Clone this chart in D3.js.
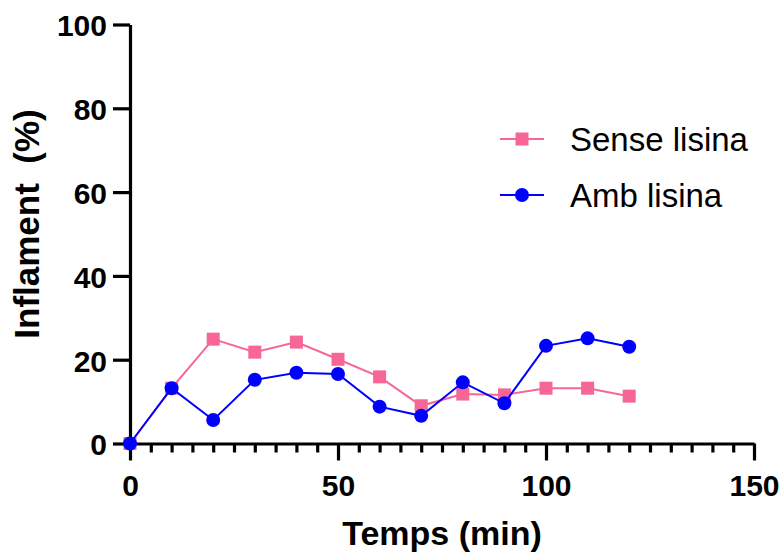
<!DOCTYPE html>
<html>
<head>
<meta charset="utf-8">
<script src="https://cdn.jsdelivr.net/npm/d3@7"></script>
<style>
  html, body { margin: 0; padding: 0; background: #fff; }
  svg { display: block; font-family: "Liberation Sans", Arial, sans-serif; }
</style>
</head>
<body>
<svg id="chart" width="782" height="553"></svg>
<script>
// Time points (min)
const times = [0, 10, 20, 30, 40, 50, 60, 70, 80, 90, 100, 110, 120];
// Inflammation (%) per group
const senseLisina = [0, 13.2, 24.9, 21.8, 24.2, 20.1, 15.9, 9.0, 11.8, 11.6, 13.2, 13.2, 11.3];
const ambLisina   = [0, 13.2, 5.6, 15.2, 16.9, 16.6, 8.8, 6.6, 14.6, 9.6, 23.3, 25.1, 23.1];
const seriesNames = ["Sense lisina", "Amb lisina"];
const xTicks = [0, 50, 100, 150];
const xMinorTicks = d3.range(0, 151, 5);
const yTicks = [0, 20, 40, 60, 80, 100];

const pink = "#F66796";
const blue = "#0000FF";

const svg = d3.select("#chart");
const x = d3.scaleLinear().domain([0, 150]).range([130, 754]);
const y = d3.scaleLinear().domain([0, 100]).range([443.5, 24.5]);

// Y axis
const yAxis = svg.append("g").attr("transform", `translate(${x(0)},0)`)
  .call(d3.axisLeft(y).tickValues(yTicks).tickSize(17).tickPadding(6).tickSizeOuter(0));
yAxis.select(".domain").attr("stroke", "#000").attr("stroke-width", 3.2);
yAxis.selectAll(".tick line").attr("stroke", "#000").attr("stroke-width", 3.2);
yAxis.selectAll(".tick text").attr("fill", "#000").attr("font-size", 30).attr("font-weight", "bold")
  .attr("font-family", "Liberation Sans, Arial, sans-serif").attr("dy", "0.38em");

// X axis minor ticks
const xMinor = svg.append("g").attr("transform", `translate(0,${y(0)})`)
  .call(d3.axisBottom(x).tickValues(xMinorTicks.filter(v => v % 50 !== 0)).tickSize(9).tickFormat("").tickSizeOuter(0));
xMinor.select(".domain").remove();
xMinor.selectAll(".tick line").attr("stroke", "#000").attr("stroke-width", 3.2);

// X axis major ticks
const xAxis = svg.append("g").attr("transform", `translate(0,${y(0)})`)
  .call(d3.axisBottom(x).tickValues(xTicks).tickSize(17).tickPadding(13).tickSizeOuter(0));
xAxis.select(".domain").attr("stroke", "#000").attr("stroke-width", 3.2);
xAxis.selectAll(".tick line").attr("stroke", "#000").attr("stroke-width", 3.2);
xAxis.selectAll(".tick text").attr("fill", "#000").attr("font-size", 30).attr("font-weight", "bold")
  .attr("font-family", "Liberation Sans, Arial, sans-serif").attr("dy", "0.75em");

// Axis titles
svg.append("text").attr("x", 442).attr("y", 545).attr("text-anchor", "middle")
  .attr("font-size", 34).attr("font-weight", "bold").text("Temps (min)");
svg.append("text").attr("transform", `translate(39,224) rotate(-90)`)
  .attr("text-anchor", "middle").attr("font-size", 35).attr("font-weight", "bold")
  .attr("xml:space", "preserve").style("white-space", "pre").text("Inflament  (%)");

const line = d3.line().x((d, i) => x(times[i])).y(d => y(d));

// Sense lisina series
svg.append("path").datum(senseLisina).attr("d", line)
  .attr("fill", "none").attr("stroke", pink).attr("stroke-width", 2);
svg.append("g").selectAll("rect").data(senseLisina).join("rect")
  .attr("x", (d, i) => x(times[i]) - 6.5).attr("y", d => y(d) - 6.5)
  .attr("width", 13).attr("height", 13).attr("fill", pink);

// Amb lisina series
svg.append("path").datum(ambLisina).attr("d", line)
  .attr("fill", "none").attr("stroke", blue).attr("stroke-width", 2);
svg.append("g").selectAll("circle").data(ambLisina).join("circle")
  .attr("cx", (d, i) => x(times[i])).attr("cy", d => y(d)).attr("r", 7).attr("fill", blue);

// Legend
const legend = svg.append("g");
const legY = [139, 195];
legend.append("line").attr("x1", 500).attr("x2", 544).attr("y1", legY[0]).attr("y2", legY[0])
  .attr("stroke", pink).attr("stroke-width", 2);
legend.append("rect").attr("x", 522 - 6.5).attr("y", legY[0] - 6.5).attr("width", 13).attr("height", 13).attr("fill", pink);
legend.append("line").attr("x1", 500).attr("x2", 544).attr("y1", legY[1]).attr("y2", legY[1])
  .attr("stroke", blue).attr("stroke-width", 2);
legend.append("circle").attr("cx", 522).attr("cy", legY[1]).attr("r", 7).attr("fill", blue);
legend.selectAll("text.lbl").data(seriesNames).join("text").attr("class", "lbl")
  .attr("x", 570).attr("y", (d, i) => legY[i]).attr("dy", "0.36em")
  .attr("font-size", 33).attr("fill", "#000").text(d => d);
</script>
</body>
</html>
